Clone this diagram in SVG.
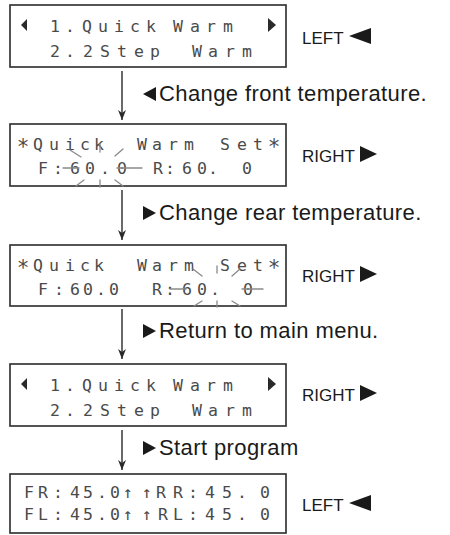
<svg xmlns="http://www.w3.org/2000/svg" width="450" height="535" viewBox="0 0 450 535">
<style>
.box{fill:#fff;stroke:#2a2a2a;stroke-width:1.6}
.lcd{font-family:"DejaVu Sans Mono","Liberation Mono",monospace;font-size:16.5px;fill:#4a4a4a;text-anchor:middle}
.star{font-family:"DejaVu Sans Mono","Liberation Mono",monospace;font-size:21px;fill:#4a4a4a;text-anchor:middle}
.lbl{font-family:"Liberation Sans",Arial,sans-serif;font-size:22px;letter-spacing:0.4px;fill:#1a1a1a}
.side{font-family:"Liberation Sans",Arial,sans-serif;font-size:17px;fill:#1a1a1a}
.tri{fill:#1a1a1a}
.lcdtri{fill:#2a2a2a}
.ray{stroke:#8a8a8a;stroke-width:1.3;fill:none;stroke-linecap:round}
.conn{stroke:#2a2a2a;stroke-width:1.4;fill:none}
</style>
<defs>
<marker id="ah" markerWidth="10" markerHeight="8" viewBox="0 0 10 8" refX="10" refY="4" orient="auto" markerUnits="userSpaceOnUse">
<path d="M0,0 L10,4 L0,8 L3,4 z" fill="#2a2a2a"/>
</marker>
</defs>

<g id="connectors">
<line class="conn" x1="122" y1="71" x2="122" y2="120" marker-end="url(#ah)"/>
<line class="conn" x1="122" y1="190" x2="122" y2="240" marker-end="url(#ah)"/>
<line class="conn" x1="122" y1="309" x2="122" y2="359" marker-end="url(#ah)"/>
<line class="conn" x1="122" y1="430" x2="122" y2="470" marker-end="url(#ah)"/>
<g id="label1"><polygon class="tri" points="156,87 156,101 143,94"/><text class="lbl" x="159" y="101">Change front temperature.</text></g>
<g id="label2"><polygon class="tri" points="143,206 143,220 156,213"/><text class="lbl" x="159" y="220">Change rear temperature.</text></g>
<g id="label3"><polygon class="tri" points="143,324 143,338 156,331"/><text class="lbl" x="159" y="338">Return to main menu.</text></g>
<g id="label4"><polygon class="tri" points="143,441 143,455 156,448"/><text class="lbl" x="159" y="455">Start program</text></g>
</g>

<g id="node1">
<rect class="box" x="10" y="5" width="276" height="62"/>
<polygon class="lcdtri" points="27,19 27,31 21,25"/>
<text class="lcd" x="55 70 87 103 119 135 151" y="32">1.Quick</text>
<text class="lcd" x="178 195 211 228" y="32">Warm</text>
<polygon class="lcdtri" points="268,18 268,32 276,25"/>
<text class="lcd" x="55 70 88 105 122 139 155" y="57">2.2Step</text>
<text class="lcd" x="197 213 230 247" y="57">Warm</text>
<text class="side" x="302" y="44">LEFT</text>
<polygon class="tri" points="371,28 371,44 349,36"/>
</g>

<g id="node2">
<rect class="box" x="10" y="124" width="276" height="62"/>
<text class="star" x="23" y="154">*</text>
<text class="lcd" x="38 54 70 85 99" y="150">Quick</text>
<text class="lcd" x="142 157 173 189" y="150">Warm</text>
<text class="lcd" x="225 242 258" y="150">Set</text>
<text class="star" x="274" y="154">*</text>
<text class="lcd" x="43 58 75 90 105 122" y="174">F:60.0</text>
<text class="lcd" x="158 170 187 202 213 247" y="174">R:60.0</text>
<g class="ray">
<line x1="63" y1="168" x2="79" y2="168"/>
<line x1="117" y1="168" x2="142" y2="168"/>
<line x1="100" y1="144" x2="100" y2="152"/>
<line x1="100" y1="180" x2="100" y2="187"/>
<line x1="70" y1="150" x2="81" y2="157"/>
<line x1="115" y1="156" x2="123" y2="149"/>
<line x1="76" y1="186" x2="84" y2="180"/>
<line x1="115" y1="180" x2="123" y2="186"/>
</g>
<text class="side" x="302" y="162">RIGHT</text>
<polygon class="tri" points="360,146 360,162 377,154"/>
</g>

<g id="node3">
<rect class="box" x="10" y="245" width="276" height="61"/>
<text class="star" x="23" y="275">*</text>
<text class="lcd" x="38 54 70 85 99" y="271">Quick</text>
<text class="lcd" x="142 157 173 189" y="271">Warm</text>
<text class="lcd" x="225 242 258" y="271">Set</text>
<text class="star" x="274" y="275">*</text>
<text class="lcd" x="43 59 75 88 101 114" y="295">F:60.0</text>
<text class="lcd" x="157 170 187 202 215 248" y="295">R:60.0</text>
<g class="ray">
<line x1="170" y1="289" x2="186" y2="289"/>
<line x1="242" y1="289" x2="263" y2="289"/>
<line x1="217" y1="266" x2="217" y2="273"/>
<line x1="217" y1="301" x2="217" y2="307"/>
<line x1="193" y1="269" x2="202" y2="276"/>
<line x1="232" y1="276" x2="240" y2="269"/>
<line x1="194" y1="306" x2="202" y2="301"/>
<line x1="232" y1="301" x2="240" y2="306"/>
</g>
<text class="side" x="302" y="282">RIGHT</text>
<polygon class="tri" points="360,266 360,282 377,274"/>
</g>

<g id="node4">
<rect class="box" x="10" y="364" width="276" height="62"/>
<polygon class="lcdtri" points="27,378 27,390 21,384"/>
<text class="lcd" x="55 70 87 103 119 135 151" y="391">1.Quick</text>
<text class="lcd" x="178 195 211 228" y="391">Warm</text>
<polygon class="lcdtri" points="268,377 268,391 276,384"/>
<text class="lcd" x="55 70 88 105 122 139 155" y="416">2.2Step</text>
<text class="lcd" x="197 213 230 247" y="416">Warm</text>
<text class="side" x="302" y="401">RIGHT</text>
<polygon class="tri" points="360,385 360,401 377,393"/>
</g>

<g id="node5">
<rect class="box" x="10" y="474" width="276" height="59"/>
<text class="lcd" x="29 43 58 75 88 102 115 128 147 161 178 193 210 227 242 265" y="498">FR:45.0↑↑RR:45.0</text>
<text class="lcd" x="29 43 58 75 88 102 115 128 147 163 178 193 210 227 242 265" y="520">FL:45.0↑↑RL:45.0</text>
<text class="side" x="302" y="511">LEFT</text>
<polygon class="tri" points="371,495 371,511 349,503"/>
</g>
</svg>
